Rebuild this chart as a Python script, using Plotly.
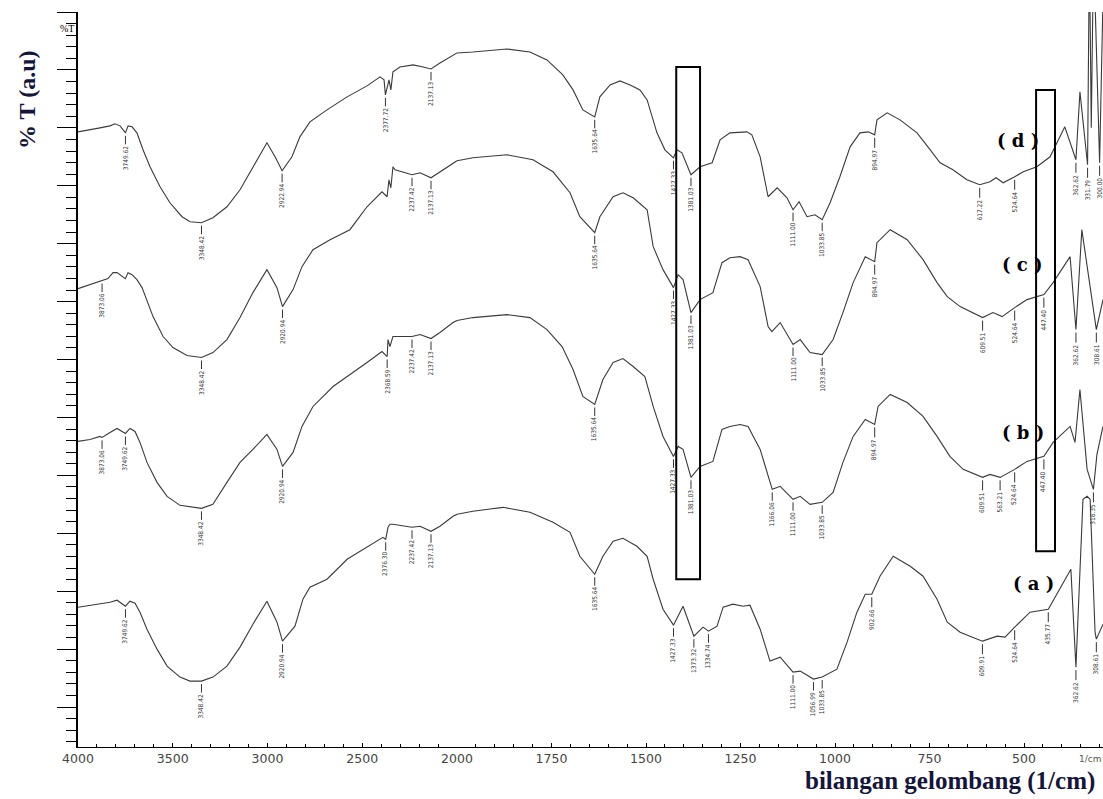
import numpy as np
import plotly.graph_objects as go

# ---------------- data (wavenumber in 1/cm, transmittance in a.u.) ----------------
d_wn = [4000, 3900, 3884, 3831, 3805, 3778, 3749.62, 3736, 3715, 3689, 3657, 3620, 3567, 3515, 3451, 3409,
        3348.42, 3288, 3214, 3145, 3077, 3003, 2960, 2922.94, 2871, 2829, 2776, 2686, 2580, 2475, 2406, 2385,
        2377.72, 2359, 2349, 2338, 2301, 2232, 2179, 2137.13, 2090, 2021, 2000, 1958, 1868, 1807, 1762, 1720,
        1693, 1667, 1635.64, 1622, 1595, 1569, 1542, 1516, 1497, 1471, 1450, 1427.33, 1418, 1405, 1381.03,
        1357, 1325, 1304, 1278, 1233, 1220, 1198, 1177, 1153, 1127, 1111.00, 1095, 1074, 1053, 1033.85, 1013,
        987, 960, 934, 912, 894.97, 889, 862, 828, 783, 748, 722, 688, 651, 617.22, 590, 574, 555, 524.64,
        502, 466, 431, 418, 392, 362.62, 352, 331.79, 327, 322, 316, 300, 291]
d_t = [61.6, 61.9, 62.0, 62.2, 62.4, 62.2, 61.5, 62.2, 62.1, 61.5, 59.8, 58.1, 56.1, 54.5, 53.1, 52.6,
       52.5, 53.0, 54.1, 55.8, 58.1, 60.5, 59.1, 57.7, 59.1, 61.1, 62.6, 63.8, 65.1, 66.2, 67.1, 66.8,
       65.3, 66.8, 65.8, 67.6, 68.1, 68.3, 68.1, 67.9, 68.5, 69.3, 69.5, 69.6, 69.9, 69.6, 68.8, 67.3,
       65.8, 63.8, 63.1, 65.1, 66.3, 66.7, 66.3, 65.8, 64.8, 61.5, 59.8, 59.0, 59.8, 59.5, 57.3,
       58.1, 58.5, 60.8, 61.5, 61.6, 61.3, 59.1, 55.1, 56.0, 55.0, 53.8, 54.6, 53.1, 53.3, 52.8, 54.5,
       57.1, 60.1, 61.5, 61.6, 61.3, 62.8, 63.5, 62.8, 61.5, 59.8, 58.5, 57.8, 56.8, 56.3, 56.6, 57.0, 56.5, 57.1,
       57.6, 58.1, 59.1, 60.1, 62.1, 58.8, 65.6, 58.3, 80, 62, 80, 58.5, 75]

c_wn = [4000, 3937, 3873.06, 3842, 3815, 3794, 3750, 3736, 3715, 3689, 3662, 3636, 3604, 3551, 3499, 3425,
        3348.42, 3288, 3214, 3145, 3077, 3003, 2950, 2920.94, 2865, 2818, 2760, 2670, 2565, 2475, 2396, 2380,
        2369, 2359, 2349, 2338, 2327, 2237.42, 2195, 2137.13, 2090, 2021, 2000, 1958, 1868, 1799, 1746, 1701,
        1675, 1635.64, 1622, 1587, 1561, 1534, 1497, 1481, 1455, 1427.33, 1415, 1402, 1381.03, 1357, 1323,
        1299, 1278, 1251, 1230, 1198, 1177, 1167, 1145, 1111.00, 1092, 1066, 1033.85, 1005, 979, 952, 920,
        894.97, 889, 854, 809, 767, 730, 703, 669, 643, 609.51, 582, 558, 524.64, 492, 447.40, 423, 378,
        362.62, 347, 308.61, 291]
c_t = [45.9, 46.3, 46.7, 46.9, 47.5, 47.5, 46.9, 47.5, 47.3, 46.8, 46.0, 44.6, 43.1, 41.1, 40.0, 39.2,
       39.0, 39.5, 40.8, 43.0, 45.5, 47.8, 46.0, 44.1, 45.8, 48.1, 49.8, 50.8, 51.8, 54.1, 55.6, 55.3,
       55.1, 56.8, 56.0, 58.1, 57.8, 57.3, 57.5, 57.0, 57.6, 58.5, 58.7, 59.0, 59.3, 58.8, 57.6, 55.5,
       53.1, 51.5, 53.1, 55.1, 55.5, 55.0, 53.8, 50.1, 47.8, 46.0, 47.3, 46.8, 43.5, 44.8, 45.5,
       48.5, 49.0, 49.1, 48.8, 46.1, 42.1, 41.6, 42.5, 40.3, 40.8, 39.5, 39.3, 40.8, 43.5, 46.5, 49.1,
       48.6, 50.5, 51.8, 50.8, 48.8, 46.5, 45.1, 44.1, 43.6, 43.0, 43.5, 43.1, 44.0, 44.8, 45.3, 46.5, 49.1,
       41.8, 51.8, 41.8, 44.8]

b_wn = [4000, 3937, 3884, 3873.06, 3831, 3794, 3749.62, 3726, 3699, 3673, 3636, 3583, 3530, 3462, 3348.42,
        3288, 3214, 3145, 3077, 3003, 2950, 2920.94, 2865, 2818, 2760, 2654, 2475, 2396, 2368.59, 2364, 2354,
        2338, 2237.42, 2195, 2137.13, 2090, 2021, 2000, 1958, 1868, 1807, 1762, 1722, 1693, 1667, 1635.64,
        1614, 1587, 1561, 1534, 1503, 1481, 1455, 1427.33, 1415, 1402, 1381.03, 1357, 1323, 1299, 1278, 1251,
        1230, 1198, 1166.06, 1145, 1111.00, 1092, 1066, 1033.85, 1005, 979, 952, 920, 894.97, 886, 854, 809,
        767, 730, 696, 661, 609.51, 590, 563.21, 524.64, 492, 447.40, 423, 378, 365, 352, 333, 316.35, 307, 291]
b_t = [30.6, 30.8, 31.1, 31.0, 31.5, 31.9, 31.4, 31.9, 31.6, 30.5, 28.5, 26.5, 25.1, 24.2, 23.9,
       24.3, 26.5, 28.5, 29.8, 31.3, 29.8, 28.1, 29.5, 32.1, 34.1, 36.1, 38.5, 39.6, 39.1, 40.8, 40.1,
       41.1, 41.1, 41.3, 40.9, 41.5, 42.5, 42.7, 43.0, 43.3, 43.0, 41.8, 40.1, 37.8, 35.1, 34.3,
       36.8, 38.5, 38.9, 38.1, 37.1, 34.1, 31.1, 29.1, 30.1, 29.8, 27.0, 28.1, 28.6, 31.8, 32.1, 32.3,
       32.1, 29.8, 25.8, 26.1, 24.8, 25.1, 24.3, 24.5, 25.5, 28.5, 31.1, 32.8, 32.3, 34.1, 35.3, 34.5,
       33.1, 31.1, 29.1, 27.8, 27.0, 27.3, 27.0, 27.8, 28.6, 29.1, 30.5, 32.1, 30.5, 35.8, 27.8, 25.8, 29.3, 32.1]

a_wn = [4000, 3900, 3831, 3794, 3749.62, 3726, 3699, 3673, 3636, 3583, 3530, 3462, 3409, 3348.42, 3288,
        3214, 3145, 3077, 3003, 2950, 2920.94, 2855, 2813, 2776, 2686, 2580, 2475, 2391, 2376.30, 2364, 2354,
        2338, 2237.42, 2195, 2137.13, 2090, 2021, 2000, 1958, 1878, 1807, 1746, 1701, 1675, 1635.64, 1614,
        1587, 1561, 1524, 1497, 1481, 1455, 1427.33, 1402, 1373.32, 1349, 1334.74, 1312, 1296, 1270, 1243,
        1225, 1198, 1172, 1145, 1111.00, 1092, 1056.99, 1033.85, 995, 968, 942, 920, 902.66, 881, 846, 801,
        767, 730, 703, 669, 643, 609.91, 571, 550, 524.64, 484, 435.77, 405, 376, 362.62, 344, 333, 325, 312,
        308.61, 291]
a_t = [14.0, 14.3, 14.5, 14.7, 14.1, 14.6, 14.4, 13.5, 11.8, 9.8, 8.1, 7.0, 6.6, 6.6, 7.0,
       8.1, 10.0, 12.3, 14.6, 12.5, 10.6, 12.1, 14.8, 16.0, 16.8, 18.8, 20.0, 21.0, 20.8, 22.0, 22.3,
       22.3, 22.0, 22.1, 21.6, 22.1, 23.1, 23.3, 23.6, 24.0, 23.5, 22.5, 21.5, 19.1, 17.3, 19.1,
       20.6, 20.9, 20.1, 19.1, 16.8, 13.8, 12.2, 14.1, 11.1, 12.0, 11.6, 12.1, 14.0, 14.3, 14.1,
       14.2, 11.8, 8.6, 9.0, 7.5, 7.6, 6.8, 7.0, 7.8, 10.5, 13.5, 15.3, 15.3, 17.1, 19.1, 18.1,
       17.1, 14.8, 12.5, 11.5, 11.1, 10.6, 11.1, 11.0, 12.0, 13.5, 13.8, 15.8, 17.8, 8.0, 24.8, 25.1, 24.8, 11.5,
       10.8, 12.3]

# peak labels (wavenumbers printed under the bands)
d_peaks = [3749.62, 3348.42, 2922.94, 2377.72, 2137.13, 1635.64, 1427.33, 1381.03, 1111.00, 1033.85,
           894.97, 617.22, 524.64, 362.62, 331.79, 300.00]
c_peaks = [3873.06, 3348.42, 2920.94, 2237.42, 2137.13, 1635.64, 1427.33, 1381.03, 1111.00, 1033.85,
           894.97, 609.51, 524.64, 447.40, 362.62, 308.61]
b_peaks = [3873.06, 3749.62, 3348.42, 2920.94, 2368.59, 2237.42, 2137.13, 1635.64, 1427.33, 1381.03,
           1166.06, 1111.00, 1033.85, 894.97, 609.51, 563.21, 524.64, 447.40, 316.35]
a_peaks = [3749.62, 3348.42, 2920.94, 2376.30, 2237.42, 2137.13, 1635.64, 1427.33, 1373.32, 1334.74,
           1111.00, 1056.99, 1033.85, 902.66, 609.91, 524.64, 435.77, 362.62, 308.61]

series_names = ["(d)", "(c)", "(b)", "(a)"]
left_ticks = [4000, 3500, 3000, 2500, 2000]
right_ticks = [1750, 1500, 1250, 1000, 750, 500]

# highlighted regions (wavenumber span, transmittance span)
box_regions = [(1420, 1357, 16.8, 68.1), (468, 418, 19.6, 65.8)]

# ---------------- figure ----------------
W, H = 1103, 799
ML, MR, MT, MB = 78, 0, 12, 52
split = (457 - ML) / (W - ML - MR)
LINE = "#3a3a3a"

fig = go.Figure()
series = [(d_wn, d_t, d_peaks), (c_wn, c_t, c_peaks), (b_wn, b_t, b_peaks), (a_wn, a_t, a_peaks)]

for wn, t, peaks in series:
    wn_a = np.array(wn, dtype=float)
    t_a = np.array(t, dtype=float)
    left = wn_a >= 2000
    right = wn_a <= 2000
    fig.add_trace(go.Scatter(x=wn_a[left], y=t_a[left], mode="lines", xaxis="x", yaxis="y",
                             line=dict(color=LINE, width=1.1), showlegend=False, hoverinfo="skip"))
    fig.add_trace(go.Scatter(x=wn_a[right], y=t_a[right], mode="lines", xaxis="x2", yaxis="y",
                             line=dict(color=LINE, width=1.1), showlegend=False, hoverinfo="skip"))
    for p in peaks:
        yv = float(np.interp(p, wn_a[::-1], t_a[::-1]))
        fig.add_annotation(x=p, y=yv - 0.3, xref="x" if p > 2000 else "x2", yref="y",
                           text=f"{p:.2f}", textangle=-90, showarrow=True, arrowhead=0,
                           arrowwidth=1, arrowcolor="#333", ax=0, ay=22, standoff=0,
                           font=dict(family="Liberation Sans Narrow, DejaVu Sans Condensed, sans-serif",
                                     size=6.5, color="#333"))

for x0, x1, y0, y1 in box_regions:
    fig.add_shape(type="rect", xref="x2", yref="y", x0=x0, x1=x1, y0=y0, y1=y1,
                  line=dict(color="black", width=2), fillcolor="rgba(0,0,0,0)")

axis_common = dict(showline=True, linecolor="black", linewidth=1, ticks="inside", ticklen=4,
                   tickcolor="black", showgrid=False, zeroline=False, anchor="y", automargin=False,
                   tickfont=dict(family="DejaVu Sans", size=12.5, color="#444"))
fig.update_layout(
    width=W, height=H, autosize=False,
    margin=dict(l=ML, r=MR, t=MT, b=MB, autoexpand=False),
    paper_bgcolor="white", plot_bgcolor="white", showlegend=False,
    xaxis=dict(domain=[0, split], range=[4000, 2000], tickmode="array", tickvals=left_ticks,
               ticktext=[str(v) for v in left_ticks],
               minor=dict(tickmode="linear", tick0=2000, dtick=100, ticks="inside", ticklen=3,
                          tickcolor="black"), **axis_common),
    xaxis2=dict(domain=[split, 1], range=[2000, 291], tickmode="array", tickvals=right_ticks,
                ticktext=[str(v) for v in right_ticks],
                minor=dict(tickmode="linear", tick0=2000, dtick=50, ticks="inside", ticklen=3,
                           tickcolor="black"), **axis_common),
    yaxis=dict(range=[0, 73.6], showline=True, linecolor="black", linewidth=1.5, ticks="outside",
               tickmode="linear", tick0=4.0, dtick=5.8, ticklen=19, tickcolor="black",
               showticklabels=False, showgrid=False, zeroline=False, automargin=False,
               minor=dict(ticks="outside", tickmode="linear", tick0=4.0, dtick=1.16, ticklen=10,
                          tickcolor="black")),
)


def px(xp, yp):
    return (xp - ML) / (W - ML - MR), (H - MB - yp) / (H - MT - MB)


def paper_text(xp, yp, text, font, xanchor="center", angle=0):
    x, y = px(xp, yp)
    fig.add_annotation(x=x, y=y, xref="paper", yref="paper", text=text, showarrow=False,
                       xanchor=xanchor, yanchor="middle", textangle=angle, font=font)


serif = "Liberation Serif, Times New Roman, serif"
paper_text(27, 100, "<b>% T (a.u)</b>", dict(family=serif, size=24, color="#15153a"), angle=-90)
paper_text(76, 29, "%T", dict(family=serif, size=10, color="black"), xanchor="right")
paper_text(950, 781, "<b>bilangan gelombang (1/cm)</b>", dict(family=serif, size=25, color="#15153a"))
paper_text(1090, 759, "1/cm", dict(family="DejaVu Sans", size=9, color="#555"))

label_pos = [(1018, 140), (1022, 264), (1023, 432), (1033, 583)]
for name, (lx, ly) in zip(series_names, label_pos):
    paper_text(lx, ly, "<b>( " + name[1] + " )</b>", dict(family="DejaVu Serif", size=18, color="black"))

fig.write_html(
    "out.html",
    config={"responsive": False, "displayModeBar": False},
    post_script=("document.body.style.margin='0px';document.body.style.overflow='hidden';"
                 "var gd=document.getElementById('{plot_id}');"
                 "Plotly.relayout(gd,{width:1103,height:799});"),
)
